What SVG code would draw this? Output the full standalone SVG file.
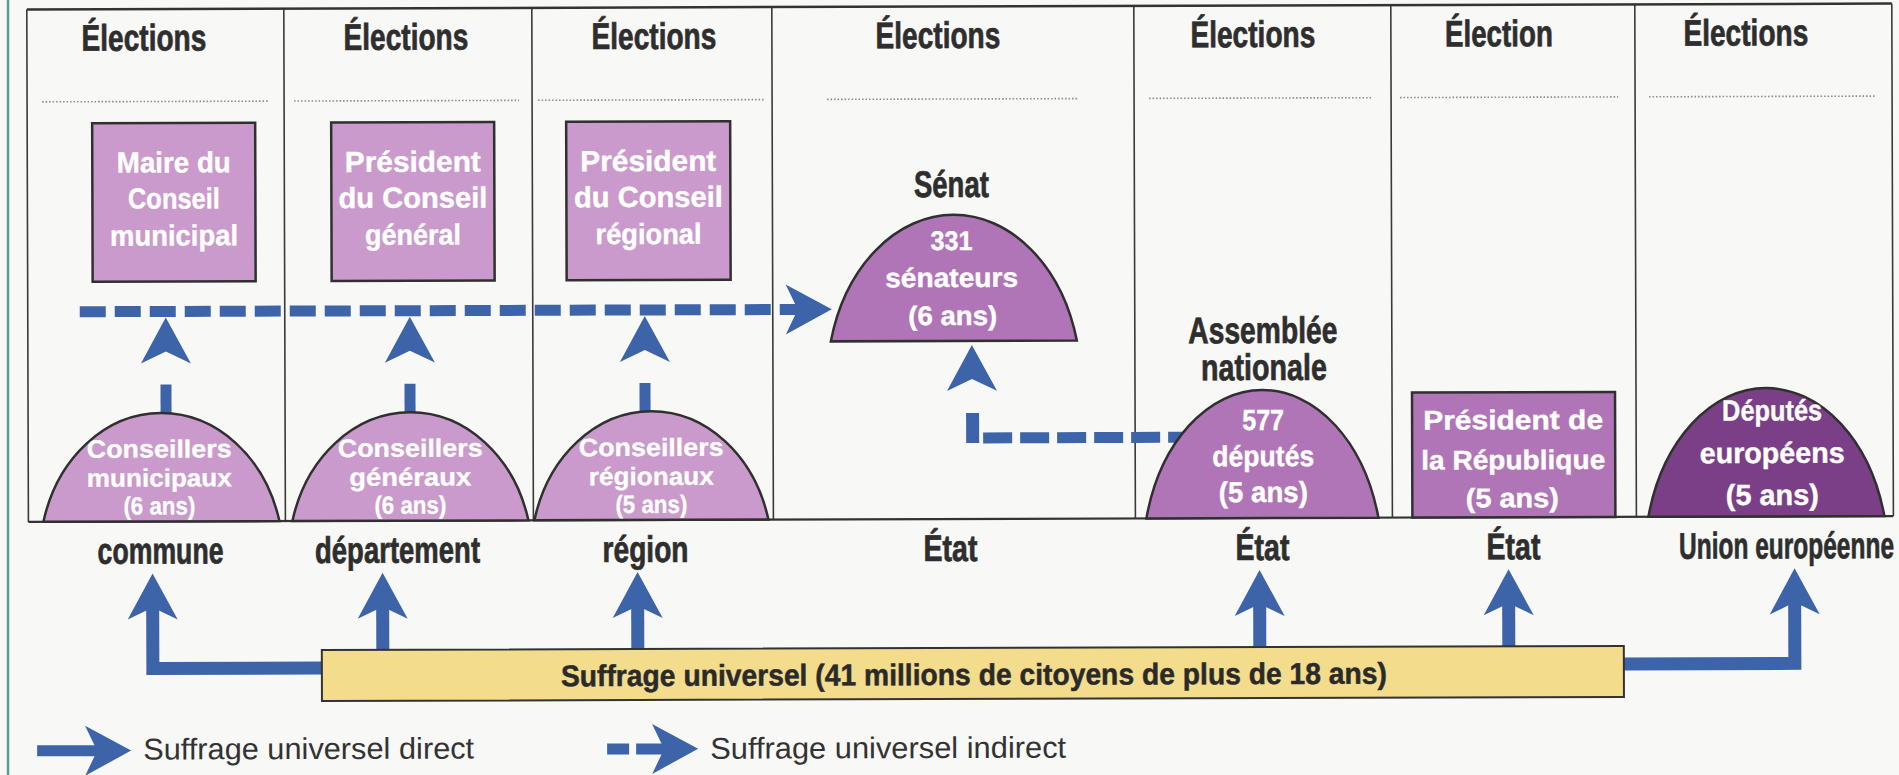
<svg xmlns="http://www.w3.org/2000/svg" xmlns:xlink="http://www.w3.org/1999/xlink" width="1899" height="775" viewBox="0 0 1899 775">
<style>
.t{font-family:"Liberation Sans Narrow","Liberation Sans",Arial,sans-serif;font-weight:bold;text-anchor:middle}
.h{font-size:37px;fill:#2e2e2e;stroke:#2e2e2e;stroke-width:0.7}
.w{font-size:29px;fill:#ffffff;stroke:#ffffff;stroke-width:0.4}
.wm{font-size:27px;fill:#ffffff;stroke:#ffffff;stroke-width:0.4}
.ws{font-size:25px;fill:#ffffff;stroke:#ffffff;stroke-width:0.3}
.b{font-size:30px;fill:#2a2a2a;stroke:#2a2a2a;stroke-width:0.5}
.lg{font-family:"Liberation Sans Narrow","Liberation Sans",Arial,sans-serif;font-size:30px;fill:#333;text-anchor:start}
.grid{stroke:#3a3a3a;stroke-width:1.6;fill:none}
.dot{stroke:#8a8a8a;stroke-width:1.6;stroke-dasharray:1.5 2;fill:none}
.box{stroke:#303030;stroke-width:2.5}
.light{fill:#c99acb}
.mid{fill:#b075b7}
.dark{fill:#7b3f87}
.solid{stroke:#3d63a8;stroke-width:13;fill:none;stroke-linejoin:miter}
.dash{stroke:#3d63a8;stroke-width:11;fill:none;stroke-dasharray:26 9}
.ah{fill:#3d63a8}
</style>
<defs>
<path id="ah" d="M0,0 L25,46 L0,34 L-25,46 Z"/>
</defs>
<rect width="1899" height="775" fill="#f8f8f6"/>
<line x1="8" y1="0" x2="8" y2="775" stroke="#5a9e8e" stroke-width="2.5"/>
<g transform="rotate(-0.18 950 390)">
<g id="table">
<path class="grid" d="M28,519 V6.5 M285,6.5 V519 M533,6.5 V519 M773,6.5 V519 M1135,6.5 V519 M1392,6.5 V519 M1636,6.5 V519 M1893,6.5 V519"/>
<line x1="28" y1="6.5" x2="1893" y2="6.5" stroke="#333" stroke-width="2.5"/>
<line x1="28" y1="519" x2="1893" y2="519" stroke="#333" stroke-width="2.2"/>
<path class="dot" d="M43,99 H270 M295,99 H520 M539,99 H766 M828,99 H1079 M1150,99 H1374 M1401,99 H1619 M1650,99 H1876"/>
<text class="t h" x="145" y="48" textLength="125" lengthAdjust="spacingAndGlyphs">Élections</text>
<text class="t h" x="407" y="48" textLength="125" lengthAdjust="spacingAndGlyphs">Élections</text>
<text class="t h" x="655" y="48" textLength="125" lengthAdjust="spacingAndGlyphs">Élections</text>
<text class="t h" x="939" y="48" textLength="125" lengthAdjust="spacingAndGlyphs">Élections</text>
<text class="t h" x="1254" y="48" textLength="125" lengthAdjust="spacingAndGlyphs">Élections</text>
<text class="t h" x="1500" y="48" textLength="108" lengthAdjust="spacingAndGlyphs">Élection</text>
<text class="t h" x="1747" y="48" textLength="125" lengthAdjust="spacingAndGlyphs">Élections</text>
<text class="t h" x="160" y="561" textLength="126" lengthAdjust="spacingAndGlyphs">commune</text>
<text class="t h" x="397" y="561" textLength="165" lengthAdjust="spacingAndGlyphs">département</text>
<text class="t h" x="645" y="561" textLength="86" lengthAdjust="spacingAndGlyphs">région</text>
<text class="t h" x="950" y="561" textLength="54" lengthAdjust="spacingAndGlyphs">État</text>
<text class="t h" x="1262" y="561" textLength="54" lengthAdjust="spacingAndGlyphs">État</text>
<text class="t h" x="1513" y="561" textLength="54" lengthAdjust="spacingAndGlyphs">État</text>
<text class="t h" x="1786" y="561" textLength="215" lengthAdjust="spacingAndGlyphs">Union européenne</text>
</g>
<g id="connectors">
<path class="dash" d="M80,309 H800"/>
<use xlink:href="#ah" class="ah" transform="translate(832,309) rotate(90)"/>
<rect x="160.5" y="382" width="11" height="29" class="ah"/>
<use xlink:href="#ah" class="ah" transform="translate(166,315)"/>
<rect x="404.5" y="382" width="11" height="29" class="ah"/>
<use xlink:href="#ah" class="ah" transform="translate(410,315)"/>
<rect x="639.5" y="382" width="11" height="29" class="ah"/>
<use xlink:href="#ah" class="ah" transform="translate(645,315)"/>
<rect x="966" y="413" width="13" height="30" class="ah"/>
<path d="M983,438 H1185" stroke="#3d63a8" stroke-width="11" stroke-dasharray="29 8" fill="none"/>
<use xlink:href="#ah" class="ah" transform="translate(972,345)"/>
<path class="solid" d="M321,666 H152 V602"/>
<use xlink:href="#ah" class="ah" transform="translate(152,571)"/>
<path class="solid" d="M382,648 V602"/>
<use xlink:href="#ah" class="ah" transform="translate(382,571)"/>
<path class="solid" d="M637,648 V602"/>
<use xlink:href="#ah" class="ah" transform="translate(637,571)"/>
<path class="solid" d="M1259,648 V602"/>
<use xlink:href="#ah" class="ah" transform="translate(1259,571)"/>
<path class="solid" d="M1508,648 V602"/>
<use xlink:href="#ah" class="ah" transform="translate(1508,571)"/>
<path class="solid" d="M1623,666 H1794 V602"/>
<use xlink:href="#ah" class="ah" transform="translate(1794,571)"/>
</g>
<g id="maire">
<rect x="93" y="120.5" width="163" height="158.5" class="box light"/>
<text class="t w" x="174.5" y="170" textLength="114" lengthAdjust="spacingAndGlyphs">Maire du</text>
<text class="t w" x="174.5" y="206" textLength="92" lengthAdjust="spacingAndGlyphs">Conseil</text>
<text class="t w" x="174.5" y="243" textLength="128" lengthAdjust="spacingAndGlyphs">municipal</text>
</g>
<g id="president-cg">
<rect x="332" y="120.5" width="163" height="158.5" class="box light"/>
<text class="t w" x="413.5" y="170" textLength="136" lengthAdjust="spacingAndGlyphs">Président</text>
<text class="t w" x="413.5" y="206" textLength="149" lengthAdjust="spacingAndGlyphs">du Conseil</text>
<text class="t w" x="413.5" y="243" textLength="96" lengthAdjust="spacingAndGlyphs">général</text>
</g>
<g id="president-cr">
<rect x="567" y="120.5" width="164" height="158.5" class="box light"/>
<text class="t w" x="649" y="170" textLength="136" lengthAdjust="spacingAndGlyphs">Président</text>
<text class="t w" x="649" y="206" textLength="149" lengthAdjust="spacingAndGlyphs">du Conseil</text>
<text class="t w" x="649" y="243" textLength="106" lengthAdjust="spacingAndGlyphs">régional</text>
</g>
<g id="conseillers-municipaux">
<path class="box light" d="M43,519 A121.9,144.7 0 0 1 279,519 Z"/>
<text class="t ws" x="159" y="455" textLength="145" lengthAdjust="spacingAndGlyphs">Conseillers</text>
<text class="t ws" x="159" y="484" textLength="145" lengthAdjust="spacingAndGlyphs">municipaux</text>
<text class="t ws" x="159" y="512" textLength="72" lengthAdjust="spacingAndGlyphs">(6 ans)</text>
</g>
<g id="conseillers-generaux">
<path class="box light" d="M292,519 A121.9,144.7 0 0 1 528,519 Z"/>
<text class="t ws" x="410" y="455" textLength="145" lengthAdjust="spacingAndGlyphs">Conseillers</text>
<text class="t ws" x="410" y="484" textLength="122" lengthAdjust="spacingAndGlyphs">généraux</text>
<text class="t ws" x="410" y="512" textLength="72" lengthAdjust="spacingAndGlyphs">(6 ans)</text>
</g>
<g id="conseillers-regionaux">
<path class="box light" d="M534,519 A120.8,144.7 0 0 1 768,519 Z"/>
<text class="t ws" x="651" y="455" textLength="145" lengthAdjust="spacingAndGlyphs">Conseillers</text>
<text class="t ws" x="651" y="484" textLength="125" lengthAdjust="spacingAndGlyphs">régionaux</text>
<text class="t ws" x="651" y="512" textLength="72" lengthAdjust="spacingAndGlyphs">(5 ans)</text>
</g>
<g id="senat">
<text class="t h" x="952" y="197" textLength="75" lengthAdjust="spacingAndGlyphs">Sénat</text>
<path class="box mid" d="M831,341 A127,168 0 0 1 1077,341 Z"/>
<text class="t wm" x="952" y="250" textLength="42" lengthAdjust="spacingAndGlyphs">331</text>
<text class="t wm" x="952" y="287" textLength="133" lengthAdjust="spacingAndGlyphs">sénateurs</text>
<text class="t wm" x="953" y="325" textLength="89" lengthAdjust="spacingAndGlyphs">(6 ans)</text>
</g>
<g id="assemblee">
<text class="t h" x="1263" y="344" textLength="149" lengthAdjust="spacingAndGlyphs">Assemblée</text>
<text class="t h" x="1264" y="381" textLength="126" lengthAdjust="spacingAndGlyphs">nationale</text>
<path class="box mid" d="M1146,519 A119.8,170.7 0 0 1 1378,519 Z"/>
<text class="t w" x="1263" y="431" textLength="42" lengthAdjust="spacingAndGlyphs">577</text>
<text class="t w" x="1263" y="467" textLength="102" lengthAdjust="spacingAndGlyphs">députés</text>
<text class="t w" x="1263" y="503" textLength="89" lengthAdjust="spacingAndGlyphs">(5 ans)</text>
</g>
<g id="president-republique">
<rect x="1412" y="394" width="203" height="125" class="box mid"/>
<text class="t wm" x="1513" y="431" textLength="180" lengthAdjust="spacingAndGlyphs">Président de</text>
<text class="t wm" x="1513" y="471" textLength="184" lengthAdjust="spacingAndGlyphs">la République</text>
<text class="t wm" x="1512" y="509" textLength="93" lengthAdjust="spacingAndGlyphs">(5 ans)</text>
</g>
<g id="deputes-europeens">
<path class="box dark" d="M1648,519 A121.9,171.3 0 0 1 1884,519 Z"/>
<text class="t w" x="1772" y="423" textLength="100" lengthAdjust="spacingAndGlyphs">Députés</text>
<text class="t w" x="1772" y="465.5" textLength="145" lengthAdjust="spacingAndGlyphs">européens</text>
<text class="t w" x="1772" y="507.5" textLength="93" lengthAdjust="spacingAndGlyphs">(5 ans)</text>
</g>
<g id="suffrage">
<rect x="321" y="648" width="1302" height="51" fill="#f3dc8c" stroke="#333" stroke-width="2"/>
<text class="t b" x="973" y="685" textLength="826" lengthAdjust="spacingAndGlyphs">Suffrage universel (41 millions de citoyens de plus de 18 ans)</text>
</g>
<g id="legend">
<rect x="36" y="742.5" width="64" height="11" class="ah"/>
<use xlink:href="#ah" class="ah" transform="translate(130,748) rotate(90)"/>
<text class="lg" x="142" y="757" textLength="331" lengthAdjust="spacingAndGlyphs">Suffrage universel direct</text>
<rect x="606" y="742.5" width="22" height="11" class="ah"/>
<rect x="635" y="742.5" width="30" height="11" class="ah"/>
<use xlink:href="#ah" class="ah" transform="translate(697,748) rotate(90)"/>
<text class="lg" x="709" y="758" textLength="356" lengthAdjust="spacingAndGlyphs">Suffrage universel indirect</text>
</g>
</g>
</svg>
